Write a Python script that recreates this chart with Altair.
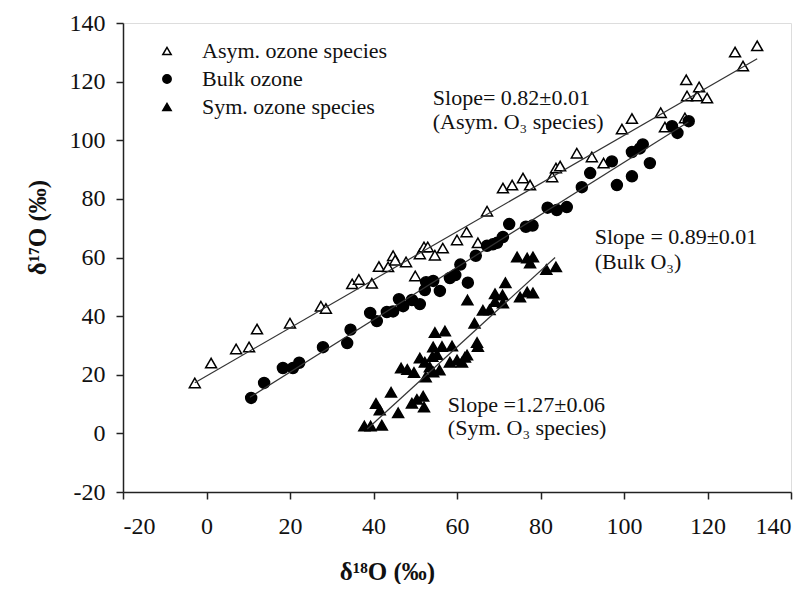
import altair as alt
import pandas as pd

# ---- data ----
asym_x = [-2.8, 1.1, 7.1, 10.2, 12.1, 20.0, 27.4, 28.6, 34.9, 36.5, 39.6, 41.3, 43.5, 44.7, 45.2,
          47.8, 50.0, 51.1, 52.1, 53.0, 54.7, 56.6, 60.0, 62.3, 65.0, 67.2, 71.0, 73.2, 75.8, 77.5,
          82.8, 83.7, 84.7, 88.7, 92.3, 95.1, 99.5, 101.9, 108.8, 109.8, 114.6, 114.9, 115.1, 117.5,
          118.0, 119.9, 126.6, 128.5, 131.9]
asym_y = [17.2, 24.0, 28.8, 29.5, 35.6, 37.6, 43.4, 42.6, 51.0, 52.5, 51.2, 56.9, 56.8, 60.6, 59.1,
          58.5, 53.7, 61.2, 63.6, 63.6, 60.8, 63.2, 66.0, 68.7, 65.0, 75.8, 83.7, 84.7, 87.1, 84.7,
          87.5, 90.5, 91.2, 95.6, 94.3, 92.2, 103.8, 107.4, 109.4, 104.5, 107.6, 120.6, 115.1, 115.1,
          118.2, 114.4, 130.1, 125.3, 132.2]

bulk_x = [10.7, 13.8, 18.3, 20.7, 22.2, 27.9, 33.7, 34.5, 39.2, 40.8, 43.2, 44.7, 46.1, 47.1, 49.2,
          51.1, 52.3, 52.6, 54.3, 55.9, 58.3, 59.6, 60.8, 62.6, 64.5, 67.2, 68.6, 69.6, 71.0, 72.5,
          76.5, 78.1, 81.7, 83.9, 86.3, 89.9, 91.9, 97.1, 98.3, 101.9, 101.9, 103.8, 104.5, 106.2,
          111.5, 112.8, 115.5]
bulk_y = [12.1, 17.2, 22.3, 22.3, 24.1, 29.4, 30.8, 35.4, 41.1, 38.3, 41.4, 41.6, 45.8, 43.4, 45.5,
          44.1, 48.9, 51.6, 52.0, 48.6, 53.0, 54.0, 57.6, 51.4, 60.6, 64.0, 64.5, 65.0, 67.0, 71.4,
          70.5, 70.9, 77.0, 76.2, 77.2, 84.0, 88.8, 92.8, 84.7, 87.7, 96.0, 97.2, 98.6, 92.2,
          104.8, 102.5, 106.5]

sym_x = [37.8, 39.3, 42.0, 40.6, 41.5, 44.2, 45.9, 46.6, 48.1, 49.7, 49.2, 50.4, 51.9, 52.1, 51.1,
         52.3, 53.5, 52.5, 54.3, 55.8, 54.1, 55.2, 54.3, 56.4, 58.8, 54.7, 57.1, 58.3, 60.0, 61.2,
         61.9, 62.4, 64.8, 65.0, 64.2, 66.2, 67.8, 69.1, 70.9, 69.1, 71.0, 62.5, 71.6, 75.1, 76.8,
         78.2, 74.4, 76.8, 78.2, 77.5, 81.4, 83.7]
sym_y = [2.5, 2.5, 2.8, 10.2, 8.0, 14.0, 7.0, 22.3, 21.8, 20.8, 10.3, 11.6, 12.7, 9.0, 25.7,
         24.3, 22.6, 19.2, 20.9, 21.6, 26.2, 26.9, 29.5, 29.6, 29.8, 34.4, 34.9, 24.3, 25.0, 24.3,
         26.0, 26.7, 31.0, 29.6, 37.6, 42.0, 42.2, 47.6, 47.2, 45.0, 44.5, 45.5, 51.4, 46.5, 48.2,
         47.9, 60.2, 59.8, 60.2, 58.1, 55.9, 56.8]

series_names = ["Asym. ozone species", "Bulk ozone", "Sym. ozone species"]

# fitted lines (end points)
fit_x0 = [-2.8, 10.4, 38.5]
fit_y0 = [17.3, 12.3, 1.5]
fit_x1 = [131.9, 115.4, 83.5]
fit_y1 = [127.8, 106.2, 60.0]

# annotations
ann_text = ["Slope= 0.82±0.01", "(Asym. O₃ species)",
            "Slope = 0.89±0.01", "(Bulk O₃)",
            "Slope =1.27±0.06", "(Sym. O₃ species)"]
ann_x = [54.2, 54.2, 93.0, 93.0, 57.8, 57.8]
ann_y = [114.4, 106.2, 67.0, 58.5, 9.7, 2.0]

ticks = [-20, 0, 20, 40, 60, 80, 100, 120, 140]

# ---- tables ----
pts = pd.concat([
    pd.DataFrame({"x": asym_x, "y": asym_y, "series": series_names[0]}),
    pd.DataFrame({"x": bulk_x, "y": bulk_y, "series": series_names[1]}),
    pd.DataFrame({"x": sym_x, "y": sym_y, "series": series_names[2]}),
], ignore_index=True)

lines = pd.DataFrame({
    "x": fit_x0 + fit_x1,
    "y": fit_y0 + fit_y1,
    "fit": series_names + series_names,
})

ann = pd.DataFrame({"text": ann_text, "x": ann_x, "y": ann_y})

FONT = "Liberation Serif"
LABEL_EXPR = "replace(datum.label, '\u2212', '-')"

xscale = alt.Scale(domain=[-20, 140], nice=False, zero=False)
yscale = alt.Scale(domain=[-20, 140], nice=False, zero=False)

xaxis = alt.Axis(values=ticks, title="δ¹⁸O (‰)", grid=False, tickSize=7, tickColor="#222",
                 domainColor="#222", domainWidth=1.5, tickWidth=1.5, labelExpr=LABEL_EXPR,
                 labelFont=FONT, labelFontSize=24, labelColor="#111", labelPadding=15,
                 titleFont=FONT, titleFontSize=25, titleFontWeight="bold", titleColor="#111",
                 titleX=264, titleY=79, titleBaseline="middle", titleAlign="center", titleAnchor="start")
yaxis = alt.Axis(values=ticks, title="δ¹⁷O (‰)", grid=False, tickSize=7, tickColor="#222",
                 domainColor="#222", domainWidth=1.5, tickWidth=1.5, labelExpr=LABEL_EXPR,
                 labelFont=FONT, labelFontSize=24, labelColor="#111", labelPadding=11,
                 titleFont=FONT, titleFontSize=25, titleFontWeight="bold", titleColor="#111",
                 titleX=-86, titleY=204, titleAngle=270, titleBaseline="middle", titleAlign="center",
                 titleAnchor="start")


def leg():
    return alt.Legend(title=None, orient="none", legendX=33, legendY=17,
                      labelFont=FONT, labelFontSize=22, labelColor="#111", labelLimit=0,
                      labelOffset=24, symbolSize=70, rowPadding=6,
                      symbolStrokeWidth=1.5)


points = alt.Chart(pts).mark_point(filled=False, size=120, strokeWidth=1.5, opacity=1).encode(
    x=alt.X("x:Q", scale=xscale, axis=xaxis),
    y=alt.Y("y:Q", scale=yscale, axis=yaxis),
    shape=alt.Shape("series:N", scale=alt.Scale(domain=series_names,
                                                range=["triangle-up", "circle", "triangle-up"]),
                    legend=leg()),
    fill=alt.Fill("series:N", scale=alt.Scale(domain=series_names,
                                              range=["white", "black", "black"]),
                  legend=leg()),
    stroke=alt.Stroke("series:N", scale=alt.Scale(domain=series_names,
                                                  range=["black", "black", "black"]),
                      legend=leg()),
)

fit_lines = alt.Chart(lines).mark_line(color="#333", strokeWidth=1.2).encode(
    x=alt.X("x:Q", scale=xscale),
    y=alt.Y("y:Q", scale=yscale),
    detail="fit:N",
)

texts = alt.Chart(ann).mark_text(align="left", baseline="middle", font=FONT, fontSize=22,
                                 color="#111").encode(
    x=alt.X("x:Q", scale=xscale),
    y=alt.Y("y:Q", scale=yscale),
    text="text:N",
)

chart = alt.layer(points, fit_lines, texts).properties(
    width=668, height=469,
    autosize=alt.AutoSizeParams(type="none"),
    padding={"left": 115, "top": 15, "right": 13, "bottom": 92},
).configure_view(stroke="#222", strokeWidth=1.5).configure(background="white")

chart.save("out.html", embed_options={"renderer": "svg", "actions": False})
